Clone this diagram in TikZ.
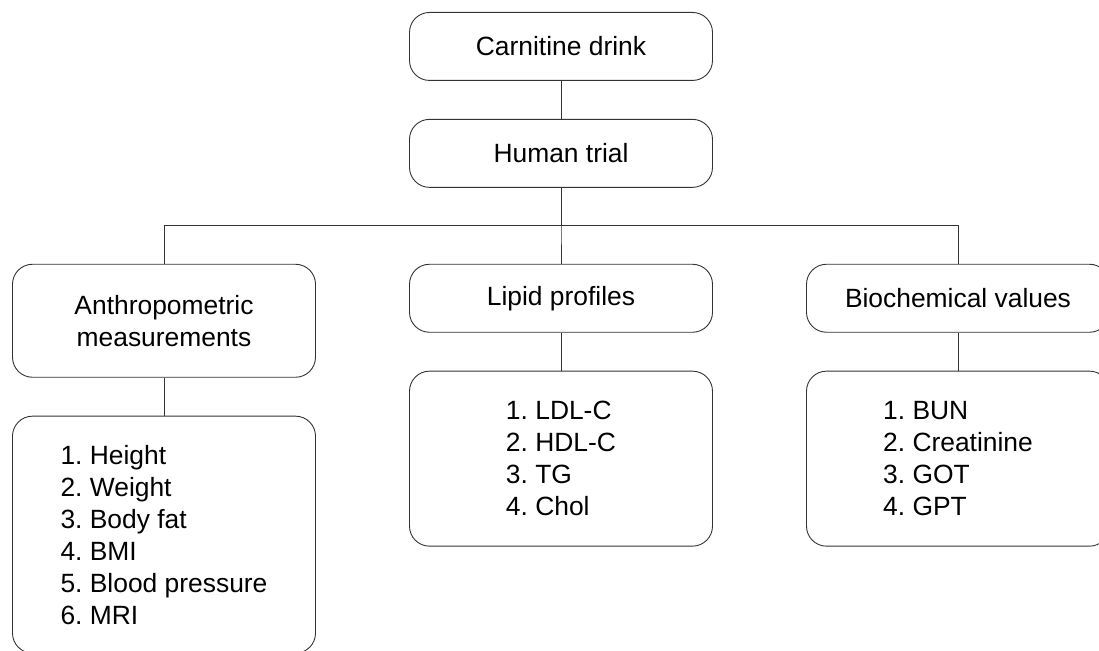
\documentclass[tikz,border=0pt]{standalone}
\usepackage{fontspec}
\setmainfont{Liberation Sans}
\frenchspacing

\begin{document}
\begin{tikzpicture}[x=1pt, y=1pt, level distance=38pt, growth parent anchor=south,
		edge from parent/.style={draw, black!80, line width=0.9pt},
		edge from parent path={(\tikzparentnode.south) -- ++(0,-38pt) -| (\tikzchildnode.north)},
		level 2/.style={level distance=76pt, sibling distance=397pt},
		level 3/.style={level distance=38pt},
		every node/.style = {shape=rectangle, rounded corners=20pt, draw=black!80, line width=0.9pt,
	anchor=north, minimum width=303pt, minimum height=68pt, align=center,
	font=\fontsize{26.4}{32}\selectfont}]
			\useasboundingbox (0,0) rectangle (1099,-650);
			\node (drink) at (561,-12) {Carnitine drink}
			child { node (trial) {Human trial}
			child { node[minimum height=113pt] (anthro) {Anthropometric \\ measurements}
			child { node[minimum height=237pt, align=left] (anthrolist) {1. Height \\ 2. Weight \\ 3. Body fat \\ 4. BMI \\ 5. Blood pressure \\ 6. MRI}
			}}
			child { node (lipid) {Lipid profiles}
			child { node[minimum height=175pt, align=left] (lipidlist) {1. LDL-C \\ 2. HDL-C \\ 3. TG \\ 4. Chol}
			}}
			child { node (biochem) {Biochemical values}
			child { node[minimum height=175pt, align=left] (biochemlist) {1. BUN \\ 2. Creatinine \\ 3. GOT \\ 4. GPT}
			}}};
		\end{tikzpicture}
\end{document}
